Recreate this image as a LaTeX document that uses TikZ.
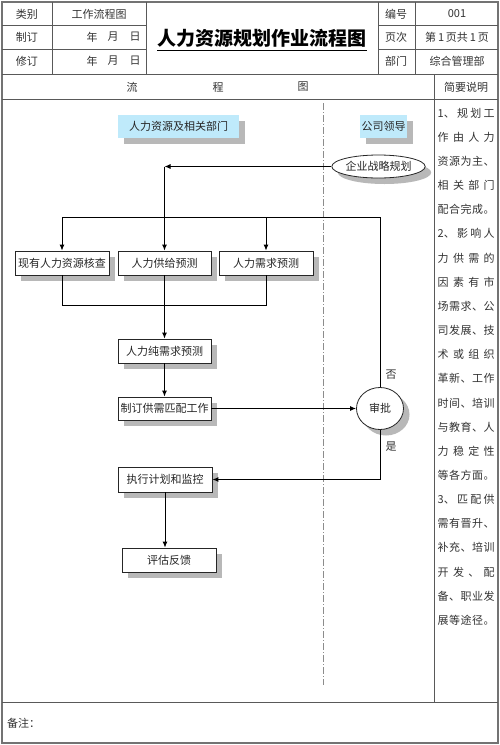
\documentclass[tikz,border=0pt]{standalone}
\usepackage{fontspec}
\setmainfont{Noto Sans CJK SC}
\usetikzlibrary{arrows.meta,shapes.geometric,shadows}
\tikzset{
  tbl/.style={draw=black!65, line width=0.9pt},
  txt/.style={inner sep=0pt, font=\fontsize{11}{11}\selectfont, text=black!80},
  shd/.style={drop shadow={shadow xshift=6pt, shadow yshift=-6pt, fill=black!28, opacity=1}},
  stepbox/.style={draw=black!85, fill=white, line width=0.8pt, minimum width=93pt, minimum height=24pt, inner sep=0pt, font=\fontsize{11}{11}\selectfont, text=black!85, shd},
  lane/.style={fill=cyan!25, minimum height=23pt, inner sep=0pt, font=\fontsize{11}{11}\selectfont, text=black!85, shd},
  oval/.style={ellipse, draw=black!85, fill=white, line width=0.8pt, inner sep=0pt, font=\fontsize{11}{11}\selectfont, text=black!85, shd},
  conn/.style={draw=black, line width=1pt},
  arr/.style={conn, -{Latex[length=6pt,width=5pt]}},
}
\newcommand{\sq}{\hfill}
\begin{document}
\begin{tikzpicture}[x=1pt,y=-1pt]
\useasboundingbox (0,0) rectangle (500,745);
\fill[white] (0,0) rectangle (500,745);
% table frame
\draw[draw=black!55, line width=1.4pt] (2,2) rectangle (498,743);
\draw[tbl] (2,25) -- (146,25) (378,25) -- (498,25);
\draw[tbl] (2,49) -- (146,49) (378,49) -- (498,49);
\draw[tbl] (2,74) -- (498,74);
\draw[tbl] (2,99) -- (498,99);
\draw[tbl] (2,702) -- (498,702);
\draw[tbl] (52,2) -- (52,74) (146,2) -- (146,74) (378,2) -- (378,74) (415,2) -- (415,74);
\draw[tbl] (434,74) -- (434,702);
% header texts
\node[txt] (h1) at (27,14) {类别};
\node[txt] (h2) at (99,14) {工作流程图};
\node[txt] (h3) at (27,37) {制订};
\node[txt] (h4) at (27,61) {修订};
\node[txt] (y1) at (92,37) {年};
\node[txt] (mo1) at (113,37) {月};
\node[txt] (d1) at (135,37) {日};
\node[txt] (y2) at (92,61) {年};
\node[txt] (mo2) at (113,61) {月};
\node[txt] (d2) at (135,61) {日};
\node[inner sep=0pt, font=\fontsize{19}{19}\selectfont\bfseries] (title) at (262,38) {人力资源规划作业流程图};
\draw[line width=1pt] (title.south west) ++(0,3) coordinate (ul1) -- (ul1 -| title.south east);
\node[txt] (h5) at (396,14) {编号};
\node[txt] (h6) at (457,14) {001};
\node[txt] (h7) at (396,37) {页次};
\node[txt] (h8) at (457,37) {第\,1\,页共\,1\,页};
\node[txt] (h9) at (396,61) {部门};
\node[txt] (h10) at (457,61) {综合管理部};
\node[txt] (r1) at (132,87) {流};
\node[txt] (r2) at (218,87) {程};
\node[txt] (r3) at (303,87) {图};
\node[txt] (r4) at (466,87) {简要说明};
\node[txt, anchor=west] (note) at (7,723) {备注：};
% right column
\foreach \i/\tx in {
 0/{1、\sq{}规\sq{}划\sq{}工},
 1/{作\sq{}由\sq{}人\sq{}力},
 2/{资\sq{}源\sq{}为\sq{}主\sq{}、},
 3/{相\sq{}关\sq{}部\sq{}门},
 4/{配\sq{}合\sq{}完\sq{}成\sq{}。},
 5/{2、\sq{}影\sq{}响\sq{}人},
 6/{力\sq{}供\sq{}需\sq{}的},
 7/{因\sq{}素\sq{}有\sq{}市},
 8/{场\sq{}需\sq{}求\sq{}、\sq{}公},
 9/{司\sq{}发\sq{}展\sq{}、\sq{}技},
 10/{术\sq{}或\sq{}组\sq{}织},
 11/{革\sq{}新\sq{}、\sq{}工\sq{}作},
 12/{时\sq{}间\sq{}、\sq{}培\sq{}训},
 13/{与\sq{}教\sq{}育\sq{}、\sq{}人},
 14/{力\sq{}稳\sq{}定\sq{}性},
 15/{等\sq{}各\sq{}方\sq{}面\sq{}。},
 16/{3、\sq{}匹\sq{}配\sq{}供},
 17/{需\sq{}有\sq{}晋\sq{}升\sq{}、},
 18/{补\sq{}充\sq{}、\sq{}培\sq{}训},
 19/{开\sq{}发\sq{}、\sq{}配},
 20/{备\sq{}、\sq{}职\sq{}业\sq{}发},
 21/{展\sq{}等\sq{}途\sq{}径\sq{}。}}
 {\node[txt, anchor=west] (ln\i) at (437.5,113+\i*24.15) {\makebox[57pt][s]{\tx}};}
% lane divider
\draw[draw=black!45, line width=0.8pt, dash pattern=on 7pt off 2pt on 1pt off 2pt] (323,103) -- (323,685);
% lanes
\node[lane, minimum width=121pt] (hr) at (178.5,126.5) {人力资源及相关部门};
\node[lane, minimum width=47pt] (lead) at (383.5,126.5) {公司领导};
% nodes
\node[oval, minimum width=93pt, minimum height=23pt] (strat) at (378.5,166.5) {企业战略规划};
\node[stepbox, minimum width=94pt] (check) at (62,263) {现有人力资源核查};
\node[stepbox] (supply) at (164.5,263) {人力供给预测};
\node[stepbox, minimum width=94pt] (demand) at (266,263) {人力需求预测};
\node[stepbox] (net) at (164.5,351) {人力纯需求预测};
\node[stepbox, minimum height=23pt] (match) at (164.5,408.5) {制订供需匹配工作};
\node[oval, minimum width=47pt, minimum height=42pt] (appr) at (380,408.5) {审批};
\node[stepbox, minimum width=94pt, minimum height=25pt] (exec) at (165,479.5) {执行计划和监控};
\node[stepbox, minimum width=94pt] (eval) at (169,560) {评估反馈};
% connectors
\coordinate (c1) at (164.5,166.5);
\draw[arr] (strat.west) -- (c1);
\draw[arr] (c1) -- (supply.north);
\coordinate (yl) at (62,217);
\coordinate (yr) at (380,217);
\draw[conn] (appr.north) -- (yr) -- (yl);
\draw[arr] (yl) -- (check.north);
\draw[arr] (demand.north |- yl) -- (demand.north);
\coordinate (m) at (164.5,305);
\draw[conn] (check.south) |- (m);
\draw[conn] (demand.south) |- (m);
\draw[conn] (supply.south) -- (m);
\draw[arr] (m) -- (net.north);
\draw[arr] (net.south) -- (match.north);
\draw[arr] (match.east) -- (appr.west);
\draw[arr] (appr.south) |- (exec.east);
\draw[arr] (exec.south) -- (exec.south |- eval.north);
\node[txt] (no) at (391,375) {否};
\node[txt] (yes) at (391,447) {是};
\end{tikzpicture}
\end{document}
